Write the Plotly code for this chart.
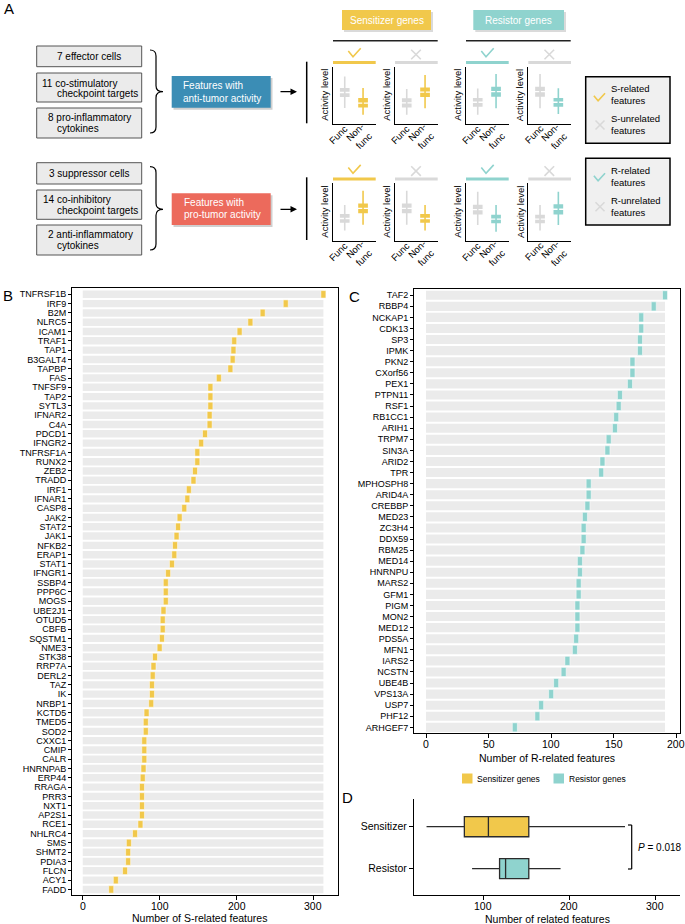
import plotly.graph_objects as go

W, H = 685, 924
def X(p): return p / W
def Y(p): return 1 - p / H

YEL = '#F1C84B'
TEAL = '#8FD3CE'
GRAYBAR = '#EBEBEB'
MGRAY = '#D9D9D9'
FONT = 'Liberation Sans, Arial, sans-serif'

# ---------------- data ----------------
genes_B = ['TNFRSF1B', 'IRF9', 'B2M', 'NLRC5', 'ICAM1', 'TRAF1', 'TAP1', 'B3GALT4', 'TAPBP', 'FAS',
           'TNFSF9', 'TAP2', 'SYTL3', 'IFNAR2', 'C4A', 'PDCD1', 'IFNGR2', 'TNFRSF1A', 'RUNX2', 'ZEB2',
           'TRADD', 'IRF1', 'IFNAR1', 'CASP8', 'JAK2', 'STAT2', 'JAK1', 'NFKB2', 'ERAP1', 'STAT1',
           'IFNGR1', 'SSBP4', 'PPP6C', 'MOGS', 'UBE2J1', 'OTUD5', 'CBFB', 'SQSTM1', 'NME3', 'STK38',
           'RRP7A', 'DERL2', 'TAZ', 'IK', 'NRBP1', 'KCTD5', 'TMED5', 'SOD2', 'CXXC1', 'CMIP',
           'CALR', 'HNRNPAB', 'ERP44', 'RRAGA', 'PRR3', 'NXT1', 'AP2S1', 'RCE1', 'NHLRC4', 'SMS',
           'SHMT2', 'PDIA3', 'FLCN', 'ACY1', 'FADD']
vals_B = [313, 264, 234, 218, 204, 197, 196, 195, 192, 177,
          166, 166, 166, 165, 165, 159, 154, 149, 149, 146,
          144, 138, 136, 132, 126, 124, 122, 120, 119, 116,
          111, 108, 108, 108, 105, 104, 104, 103, 100, 94,
          92, 91, 90, 90, 89, 83, 82, 82, 80, 80,
          80, 79, 78, 77, 77, 77, 77, 75, 68, 60,
          59, 59, 55, 43, 37]
ticks_B = [0, 100, 200, 300]

genes_C = ['TAF2', 'RBBP4', 'NCKAP1', 'CDK13', 'SP3', 'IPMK', 'PKN2', 'CXorf56', 'PEX1', 'PTPN11',
           'RSF1', 'RB1CC1', 'ARIH1', 'TRPM7', 'SIN3A', 'ARID2', 'TPR', 'MPHOSPH8', 'ARID4A', 'CREBBP',
           'MED23', 'ZC3H4', 'DDX59', 'RBM25', 'MED14', 'HNRNPU', 'MARS2', 'GFM1', 'PIGM', 'MON2',
           'MED12', 'PDS5A', 'MFN1', 'IARS2', 'NCSTN', 'UBE4B', 'VPS13A', 'USP7', 'PHF12', 'ARHGEF7']
vals_C = [191, 182, 172, 172, 171, 171, 165, 165, 163, 155,
          154, 152, 151, 146, 145, 141, 140, 130, 130, 129,
          127, 126, 126, 125, 123, 123, 122, 122, 121, 121,
          121, 120, 119, 113, 110, 104, 100, 92, 89, 71]
ticks_C = [0, 50, 100, 150, 200]

# panel D box statistics
groups_D = ['Sensitizer', 'Resistor']
lower_D = [34, 87]
q1_D = [78, 119]
median_D = [106, 126]
q3_D = [153, 153]
upper_D = [265, 190]
ticks_D = [100, 200, 300]
p_text = '<i>P</i> = 0.018'

# panel A schematic mini box plots: [lowerwhisker, q1, median, q3, upperwhisker]
mini_cats = ['Func', 'Non-func']
mini_labels = ['Func', 'Non-<br>func']
mini_func = [[2.8, 4.6, 5.5, 6.4, 8.3], [1.6, 2.75, 3.7, 4.6, 6.1],
             [1.6, 2.9, 3.8, 4.65, 6.2], [2.74, 4.66, 5.65, 6.63, 8.73],
             [1.8, 3.07, 3.9, 4.8, 6.24], [2.8, 4.7, 5.65, 6.6, 8.7],
             [2.77, 4.5, 5.45, 6.41, 8.54], [1.8, 2.95, 3.8, 4.68, 6.24]]
mini_nonfunc = [[1.6, 2.75, 3.65, 4.65, 6.3], [2.75, 4.6, 5.55, 6.5, 8.55],
                [2.74, 4.66, 5.65, 6.63, 8.73], [1.75, 2.9, 3.8, 4.66, 6.23],
                [2.8, 4.7, 5.65, 6.6, 8.7], [1.8, 3.07, 3.9, 4.8, 6.24],
                [1.6, 2.95, 3.8, 4.68, 6.24], [2.77, 4.5, 5.5, 6.5, 8.54]]
mini_related = [True, False, True, False, True, False, True, False]

fig = go.Figure()

# ---------------- panel B ----------------
nB = len(genes_B)
fig.add_trace(go.Bar(y=genes_B, x=[max(vals_B)] * nB, orientation='h', marker_color=GRAYBAR,
                     marker_line_width=0, width=0.8, xaxis='x', yaxis='y', hoverinfo='skip'))
fig.add_trace(go.Bar(y=genes_B, x=[6.5] * nB, base=[v - 3.25 for v in vals_B], orientation='h',
                     marker_color=YEL, marker_line=dict(color='white', width=0.5), width=0.8,
                     xaxis='x', yaxis='y'))

# ---------------- panel C ----------------
nC = len(genes_C)
fig.add_trace(go.Bar(y=genes_C, x=[max(vals_C)] * nC, orientation='h', marker_color=GRAYBAR,
                     marker_line_width=0, width=0.82, xaxis='x2', yaxis='y2', hoverinfo='skip'))
fig.add_trace(go.Bar(y=genes_C, x=[4.0] * nC, base=[v - 2.0 for v in vals_C], orientation='h',
                     marker_color=TEAL, marker_line=dict(color='white', width=0.5), width=0.82,
                     xaxis='x2', yaxis='y2'))

# ---------------- panel D ----------------
for i, (g, col) in enumerate(zip(groups_D, [YEL, TEAL])):
    fig.add_trace(go.Box(y=[g], q1=[q1_D[i]], median=[median_D[i]], q3=[q3_D[i]],
                         lowerfence=[lower_D[i]], upperfence=[upper_D[i]], orientation='h',
                         fillcolor=col, line=dict(color='#2b2b2b', width=1.3), width=0.48,
                         whiskerwidth=0, boxpoints=False, xaxis='x3', yaxis='y3'))

# ---------------- panel A mini plots ----------------
mini_lefts = [333, 395, 466, 528.3]
mini_w = 42.7
rows_y = [(66.7, 124.0), (183.3, 241.0)]
for k in range(8):
    r, c = divmod(k, 4)
    ax = 4 + k
    col = YEL if c < 2 else TEAL
    for cat, st, fc in [(mini_cats[0], mini_func[k], MGRAY), (mini_cats[1], mini_nonfunc[k], col)]:
        fig.add_trace(go.Scatter(x=[cat, cat], y=[st[0], st[4]], mode='lines',
                                 line=dict(color=fc, width=1.6), xaxis=f'x{ax}', yaxis=f'y{ax}',
                                 hoverinfo='skip'))
        fig.add_trace(go.Box(x=[cat], q1=[st[1]], median=[st[2]], q3=[st[3]], lowerfence=[st[1]],
                             upperfence=[st[3]], fillcolor=fc, line=dict(color='white', width=1.3),
                             width=0.6, whiskerwidth=0, boxpoints=False,
                             xaxis=f'x{ax}', yaxis=f'y{ax}'))

layout = dict(width=W, height=H, margin=dict(l=0, r=0, t=0, b=0), showlegend=False,
              paper_bgcolor='white', plot_bgcolor='white', barmode='overlay',
              font=dict(family=FONT, color='black'))

axline = dict(showline=True, linecolor='black', linewidth=1, showgrid=False, zeroline=False,
              ticks='outside', ticklen=3, tickcolor='black', tickwidth=1)

layout['xaxis'] = dict(axline, domain=[X(72), X(338)], range=[-14, 332], tickvals=ticks_B,
                       showticklabels=False, mirror=True, anchor='y', ticklen=4)
layout['yaxis'] = dict(axline, domain=[Y(895), Y(288)], type='category', categoryorder='array',
                       categoryarray=genes_B, tickmode='array', tickvals=genes_B,
                       range=[nB - 1 + 0.6, -0.68], mirror=True, anchor='x',
                       tickfont=dict(size=9))
layout['xaxis2'] = dict(axline, domain=[X(414), X(680)], range=[-9.6, 203], tickvals=ticks_C,
                        showticklabels=False, mirror=True, anchor='y2', ticklen=4)
layout['yaxis2'] = dict(axline, domain=[Y(733), Y(288.5)], type='category', categoryorder='array',
                        categoryarray=genes_C, tickmode='array', tickvals=genes_C,
                        range=[nC - 1 + 0.51, -0.61], mirror=True, anchor='x2',
                        tickfont=dict(size=9))
layout['xaxis3'] = dict(axline, domain=[X(414), X(680)], range=[19.4, 329], tickvals=ticks_D,
                        showticklabels=False, anchor='y3', ticklen=4, linewidth=1.2)
layout['yaxis3'] = dict(axline, domain=[Y(895), Y(799)], type='category', categoryorder='array',
                        categoryarray=['Resistor', 'Sensitizer'], range=[-0.63, 1.66], anchor='x3',
                        tickfont=dict(size=10.5), ticklen=4, linewidth=1.2)

for k in range(8):
    r, c = divmod(k, 4)
    ax = 4 + k
    left = mini_lefts[c]
    top, bot = rows_y[r]
    layout[f'xaxis{ax}'] = dict(domain=[X(left), X(left + mini_w)], anchor=f'y{ax}', type='category',
                                categoryorder='array', categoryarray=mini_cats, range=[-0.64, 1.69],
                                showticklabels=False,
                                showline=True, linecolor='black', linewidth=1.3, showgrid=False,
                                zeroline=False, ticks='')
    layout[f'yaxis{ax}'] = dict(domain=[Y(bot), Y(top)], anchor=f'x{ax}', range=[0, 10],
                                showline=True, linecolor='black', linewidth=1.3, showgrid=False,
                                zeroline=False, ticks='', showticklabels=False)

shapes = []
ann = []

def rect(x0, y0, x1, y1, fill, line=None, lw=1):
    shapes.append(dict(type='rect', xref='paper', yref='paper', x0=X(x0), x1=X(x1), y0=Y(y1), y1=Y(y0),
                       fillcolor=fill, line=dict(color=line if line else fill, width=lw if line else 0),
                       layer='above'))

def line(x0, y0, x1, y1, color='black', w=1.2):
    shapes.append(dict(type='line', xref='paper', yref='paper', x0=X(x0), x1=X(x1), y0=Y(y0), y1=Y(y1),
                       line=dict(color=color, width=w), layer='above'))

def path(pts_str, color='black', w=1.2):
    shapes.append(dict(type='path', xref='paper', yref='paper', path=pts_str,
                       line=dict(color=color, width=w), layer='above'))

def P(x, y):
    return f'{X(x):.5f},{Y(y):.5f}'

def text(x, y, s, size=10, color='black', xanchor='left', yanchor='middle', angle=0):
    ann.append(dict(xref='paper', yref='paper', x=X(x), y=Y(y), text=s, showarrow=False,
                    xanchor=xanchor, yanchor=yanchor, textangle=angle,
                    font=dict(size=size, color=color, family=FONT)))

def xticklabels(xref, vals, ypx, size=10.5):
    for v in vals:
        ann.append(dict(xref=xref, yref='paper', x=v, y=Y(ypx), text=str(v), showarrow=False,
                        xanchor='center', yanchor='middle', font=dict(size=size, family=FONT)))

def check(cx, cy, color, s=1.0):
    path(f'M {P(cx - 5.7 * s, cy - 2 * s)} L {P(cx - 1 * s, cy + 3.7 * s)} L {P(cx + 6.7 * s, cy - 4.7 * s)}',
         color, 1.6)

def cross(cx, cy, color, h=4.8):
    line(cx - h, cy - h, cx + h, cy + h, color, 1.6)
    line(cx - h, cy + h, cx + h, cy - h, color, 1.6)

def brace(x0, y0, y1, ytip, xtip):
    xm = x0 + 6
    path(f'M {P(x0, y0)} Q {P(xm, y0)} {P(xm, y0 + 6)} L {P(xm, ytip - 6)} Q {P(xm, ytip)} {P(xtip, ytip)} '
         f'Q {P(xm, ytip)} {P(xm, ytip + 6)} L {P(xm, y1 - 6)} Q {P(xm, y1)} {P(x0, y1)}', 'black', 1.2)

# panel letters
text(2, 9, 'A', 15)
text(1, 295, 'B', 15)
text(347, 297, 'C', 15)
text(340, 797, 'D', 15)

# ---- Panel A left boxes ----
boxes_rows = [[(46, 66.7), (73, 102), (108, 138)], [(162.7, 184), (190, 219.3), (225, 255)]]
for rb in boxes_rows:
    for (y0, y1) in rb:
        rect(36.7, y0, 141.7, y1, GRAYBAR, '#555555', 1)
text(89.2, 56.5, '7 effector cells', 10, xanchor='center')
text(39.5, 83.5, '11 co-stimulatory', 10)
text(54.5, 94, 'checkpoint targets', 10)
text(46, 117.5, '8 pro-inflammatory', 10)
text(54.5, 128.5, 'cytokines', 10)
text(89.2, 173.5, '3 suppressor cells', 10, xanchor='center')
text(40.5, 199, '14 co-inhibitory', 10)
text(54.5, 210, 'checkpoint targets', 10)
text(45.5, 234.5, '2 anti-inflammatory', 10)
text(54.5, 245.5, 'cytokines', 10)

brace(150, 50, 133, 91.7, 163)
brace(150, 166.7, 250, 209.3, 163)

# feature boxes
rect(173.5, 78, 272.5, 109.7, '#CFCFCF')
rect(171.7, 76, 270.7, 107.7, '#3B8DB5')
text(181, 85.5, 'Features with', 10, 'white')
text(181, 98, 'anti-tumor activity', 10, 'white')
rect(173.5, 195.3, 272.5, 227, '#CFCFCF')
rect(171.7, 193.3, 270.7, 225, '#EC6A5C')
text(181.5, 202.5, 'Features with', 10, 'white')
text(181.5, 214.5, 'pro-tumor activity', 10, 'white')

for ya in [91.7, 209.3]:
    ann.append(dict(xref='paper', yref='paper', x=X(297), y=Y(ya), ax=-18, ay=0, text='',
                    showarrow=True, arrowhead=2, arrowsize=1, arrowwidth=1.3, arrowcolor='black'))

line(306.7, 61.7, 306.7, 123.3, 'black', 1.5)
line(306.7, 177.3, 306.7, 240, 'black', 1.5)

# headers
rect(344, 12, 433, 32, '#DADADA')
rect(342, 10, 431, 30, YEL)
text(386.5, 20, 'Sensitizer genes', 10, 'white', xanchor='center')
rect(475.3, 12, 566, 32, '#DADADA')
rect(473.3, 10, 564, 30, TEAL)
text(518.7, 20, 'Resistor genes', 10, 'white', xanchor='center')
line(333, 40.7, 437.7, 40.7, '#222222', 1.6)
line(466, 40.7, 570.7, 40.7, '#222222', 1.6)

# status bars / check marks / labels around the mini plots
cat_px = [11.7, 30.0]  # category positions inside a mini plot (px from its left edge)
for k in range(8):
    r, c = divmod(k, 4)
    left = mini_lefts[c]
    top, bot = rows_y[r]
    col = YEL if c < 2 else TEAL
    barcol = col if mini_related[k] else MGRAY
    rect(left, top - 5.7, left + mini_w, top - 2.7, barcol)
    cx = left + 21
    if mini_related[k]:
        check(cx, top - 13.7, col)
    else:
        cross(cx, top - 12.2, MGRAY)
    text(left - 8.5, (top + bot) / 2, 'Activity level', 9.5, xanchor='center', angle=-90)
    text(left + cat_px[0] - 6, bot + 11, mini_labels[0], 9.5, xanchor='center', angle=-45)
    text(left + cat_px[1] - 4, bot + 12.5, mini_labels[1], 9.5, xanchor='center', angle=-45)

# right legends
rect(585.7, 76.7, 670, 143.3, '#F0F0F0', 'black', 1.5)
rect(585.7, 158.3, 670, 225, '#F0F0F0', 'black', 1.5)
check(599, 97.5, YEL, 0.9)
cross(600, 125, MGRAY, 4.5)
text(609, 88.5, 'S-related', 9.5)
text(609, 100.5, 'features', 9.5)
text(609, 118.5, 'S-unrelated', 9.5)
text(609, 130.5, 'features', 9.5)
check(599, 177.5, TEAL, 0.9)
cross(600, 206.7, MGRAY, 4.5)
text(609, 170.7, 'R-related', 9.5)
text(609, 182.5, 'features', 9.5)
text(609, 200.7, 'R-unrelated', 9.5)
text(609, 212.5, 'features', 9.5)

# x tick labels and axis titles
xticklabels('x', ticks_B, 905.5)
xticklabels('x2', ticks_C, 743.5)
xticklabels('x3', ticks_D, 906)
text(200, 918, 'Number of S-related features', 10.5, xanchor='center')
text(547, 758, 'Number of R-related features', 10.5, xanchor='center')
text(547, 918.5, 'Number of related features', 10.5, xanchor='center')

# legend between C and D
rect(462, 773.5, 472.5, 783.5, YEL)
text(475, 778.5, 'Sensitizer genes', 8.5)
rect(553.5, 773.5, 564, 783.5, TEAL)
text(567, 778.5, 'Resistor genes', 8.5)

# P-value bracket
line(631.7, 825, 631.7, 869, 'black', 1.2)
line(628, 825, 631.7, 825, 'black', 1.2)
line(628, 869, 631.7, 869, 'black', 1.2)
text(636, 847, p_text, 10)

layout['shapes'] = shapes
layout['annotations'] = ann
fig.update_layout(**layout)
fig.write_html('out.html', config={'displayModeBar': False},
               post_script="document.body.style.margin='0px';document.body.style.overflow='hidden';")
